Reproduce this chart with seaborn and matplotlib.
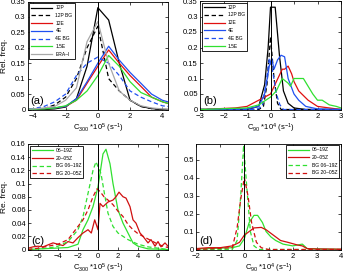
import numpy as np
import pandas as pd
import matplotlib
matplotlib.use("Agg")
import matplotlib.pyplot as plt
import seaborn as sns

# ---- panel (a): C300 distributions ----
A_X = [-4.67, -4, -3.33, -2.67, -2, -1.33, -0.67, 0, 0.67, 1.33, 2, 2.67, 3.33, 4, 4.67]
A_12P = [0, 0, 0, 0.002, 0.008, 0.035, 0.14, 0.33, 0.29, 0.15, 0.03, 0.01, 0.003, 0, 0]
A_12P_BG = [0, 0, 0.003, 0.015, 0.04, 0.10, 0.20, 0.27, 0.10, 0.06, 0.03, 0.01, 0.003, 0, 0]
A_12E = [0, 0.002, 0.003, 0.005, 0.01, 0.03, 0.085, 0.14, 0.193, 0.15, 0.11, 0.075, 0.04, 0.025, 0.015]
A_4E = [0, 0.002, 0.003, 0.005, 0.01, 0.035, 0.09, 0.15, 0.205, 0.16, 0.12, 0.085, 0.05, 0.03, 0.02]
A_4E_BG = [0, 0.003, 0.01, 0.025, 0.05, 0.11, 0.15, 0.17, 0.15, 0.11, 0.06, 0.04, 0.025, 0.012, 0.008]
A_15E = [0, 0.001, 0.002, 0.005, 0.012, 0.03, 0.06, 0.11, 0.175, 0.14, 0.09, 0.055, 0.04, 0.025, 0.015]
A_ERA = [0, 0.002, 0.005, 0.01, 0.03, 0.07, 0.22, 0.285, 0.15, 0.06, 0.03, 0.012, 0.005, 0.002, 0]

# ---- panel (b): C90 distributions ----
B_12P_X = [-3, -1, -0.5, -0.25, -0.1, 0.0, 0.2, 0.38, 0.55, 0.75, 1.0, 1.5, 3]
B_12P = [0, 0, 0.01, 0.08, 0.2, 0.33, 0.33, 0.175, 0.06, 0.02, 0.005, 0, 0]
B_12P_BG_X = [-3, -0.5, -0.3, -0.15, 0, 0.15, 0.3, 0.45, 3]
B_12P_BG = [0, 0, 0.01, 0.08, 0.235, 0.1, 0.02, 0, 0]
B_12E_X = [-3, -1.5, -1, -0.5, 0, 0.25, 0.5, 0.6, 0.75, 0.9, 1.0, 1.2, 1.4, 1.6, 1.8, 2.0, 2.5, 3]
B_12E = [0, 0.005, 0.01, 0.03, 0.05, 0.09, 0.13, 0.13, 0.14, 0.115, 0.09, 0.06, 0.045, 0.03, 0.02, 0.01, 0.005, 0]
B_4E_X = [-3, -1, -0.5, -0.25, -0.05, 0.05, 0.15, 0.3, 0.45, 0.6, 0.75, 0.85, 1.0, 1.2, 1.5, 2, 3]
B_4E = [0, 0.002, 0.01, 0.05, 0.14, 0.165, 0.13, 0.16, 0.175, 0.17, 0.1, 0.08, 0.05, 0.03, 0.01, 0.002, 0]
B_4E_BG_X = [-3, -0.6, -0.35, -0.2, -0.05, 0.1, 0.25, 0.4, 0.55, 3]
B_4E_BG = [0, 0, 0.01, 0.08, 0.165, 0.12, 0.05, 0.015, 0, 0]
B_15E_X = [-3, -1, -0.5, 0, 0.25, 0.5, 0.75, 0.85, 1.0, 1.4, 1.6, 1.8, 2.0, 2.2, 2.5, 2.8, 3]
B_15E = [0, 0.005, 0.015, 0.04, 0.06, 0.1, 0.085, 0.075, 0.1, 0.1, 0.075, 0.05, 0.03, 0.03, 0.015, 0.01, 0.005]

# ---- panel (c): C300 by time of day ----
C_DAY_X = [-7, -3, -2, -1.5, -1, -0.5, 0, 0.5, 0.8, 1.2, 1.5, 2, 2.5, 3, 3.5, 4, 5, 7]
C_DAY = [0, 0.003, 0.008, 0.03, 0.045, 0.065, 0.095, 0.145, 0.152, 0.13, 0.1, 0.06, 0.04, 0.025, 0.01, 0.005, 0.001, 0]
C_NIGHT_X = [-7, -6.5, -6, -5.5, -5, -4.5, -4, -3.5, -3, -2.5, -2, -1.5, -1, -0.67, -0.33, 0, 0.2,
             0.5, 1.0, 1.5, 1.8, 2.1, 2.5, 2.8, 3.2, 3.5, 3.8, 4.2, 4.5, 5, 5.3, 5.7, 6, 6.3, 6.7, 7]
C_NIGHT = [0.002, 0.004, 0.005, 0.004, 0.007, 0.01, 0.008, 0.006, 0.012, 0.01, 0.018, 0.025, 0.03, 0.025, 0.045,
           0.03, 0.07, 0.065, 0.072, 0.075, 0.08, 0.087, 0.08, 0.078, 0.065, 0.045, 0.04, 0.025, 0.02, 0.01,
           0.015, 0.005, 0.012, 0.004, 0.01, 0.005]
C_BG_DAY_X = [-7, -5, -4, -3, -2, -1.5, -1, -0.5, -0.2, 0.3, 0.7, 1, 1.5, 2, 3, 4, 5, 7]
C_BG_DAY = [0, 0.002, 0.005, 0.012, 0.03, 0.05, 0.085, 0.12, 0.133, 0.115, 0.08, 0.055, 0.035, 0.025, 0.015, 0.008, 0.004, 0]
C_BG_NIGHT_X = [-7, -6, -5, -4, -3, -2.5, -2, -1.5, -1, -0.5, -0.1, 0.2, 0.6, 1, 1.5, 2, 2.5, 3, 3.5, 4, 4.5, 5, 5.5, 6, 6.5, 7]
C_BG_NIGHT = [0, 0.002, 0.005, 0.008, 0.015, 0.025, 0.035, 0.045, 0.06, 0.08, 0.092, 0.088, 0.08, 0.075, 0.068, 0.058, 0.05, 0.038, 0.03, 0.024, 0.02, 0.016, 0.012, 0.008, 0.005, 0.003]

# ---- panel (d): C90 by time of day ----
D_DAY_X = [-2, -1.5, -0.5, -0.2, 0, 0.2, 0.4, 0.55, 0.75, 0.9, 1.1, 1.3, 1.6, 2, 2.4, 2.6, 3, 4]
D_DAY = [0.003, 0.005, 0.01, 0.02, 0.06, 0.15, 0.19, 0.19, 0.15, 0.1, 0.07, 0.05, 0.03, 0.02, 0.03, 0.005, 0.003, 0]
D_NIGHT_X = [-2, -1.5, -1, -0.5, -0.2, 0, 0.2, 0.4, 0.7, 0.9, 1.2, 1.5, 1.8, 2.2, 2.4, 2.6, 3, 4]
D_NIGHT = [0.005, 0.01, 0.01, 0.02, 0.04, 0.08, 0.1, 0.12, 0.123, 0.11, 0.08, 0.05, 0.04, 0.025, 0.02, 0.005, 0.003, 0.002]
D_BG_DAY_X = [-2, -0.5, -0.3, -0.15, -0.03, 0.1, 0.25, 0.4, 0.6, 4]
D_BG_DAY = [0, 0, 0.05, 0.3, 0.58, 0.35, 0.1, 0.02, 0, 0]
D_BG_NIGHT_X = [-2, -0.5, -0.3, -0.15, 0, 0.15, 0.3, 0.5, 0.7, 1, 4]
D_BG_NIGHT = [0, 0.01, 0.12, 0.28, 0.4, 0.3, 0.15, 0.04, 0.01, 0, 0]

BLACK, RED, BLUE, GREEN, GREY = "black", "#e01010", "#2050f0", "#30e030", "#a8a8a8"
DRED = "#d01010"

plt.rcParams["font.family"] = ["Liberation Sans", "DejaVu Sans"]
plt.rcParams["mathtext.default"] = "regular"
plt.rcParams["axes.linewidth"] = 0.6

fig = plt.figure(figsize=(3.43, 2.75), dpi=100)
W, H = 343.0, 275.0


def box(l, r, t, b):
    return [l / W, 1 - b / H, (r - l) / W, (b - t) / H]


def line(ax, x, y, color, ls="-", label=None):
    dash = (3.5, 2.2) if ls == "--" else None
    sns.lineplot(x=x, y=y, ax=ax, color=color, lw=0.9, sort=False,
                 estimator=None, label=label, legend=False,
                 **({"dashes": dash} if dash else {"linestyle": "-"}))


def style(ax, xlim, ylim, xticks, yticks, xlabel, ylabel, letter):
    ax.axvline(0, color="black", lw=0.7)
    ax.set_xlim(*xlim)
    ax.set_ylim(*ylim)
    ax.set_xticks(xticks)
    ax.set_yticks(yticks)
    ax.set_yticklabels([f"{v:g}" for v in yticks])
    ax.set_xticklabels([f"{v:g}".replace("-", "\u2212") for v in xticks])
    ax.tick_params(direction="in", top=True, right=True, labelsize=5.5, length=2, width=0.5)
    ax.tick_params(axis="x", pad=2.5)
    ax.tick_params(axis="y", pad=1.5)
    ax.set_xlabel(xlabel, fontsize=5.5, labelpad=1.2)
    ax.set_ylabel(ylabel, fontsize=6, labelpad=2)
    ax.text(0.02, 0.03, letter, transform=ax.transAxes, fontsize=8, ha="left", va="bottom")


def legend(ax, loc):
    leg = ax.legend(loc=loc, fontsize=3.6, handlelength=4.2, handleheight=0.6, handletextpad=0.6,
                    labelspacing=0.55, borderpad=0.4, borderaxespad=0.35, fancybox=False, framealpha=1)
    leg.get_frame().set_edgecolor("black")
    leg.get_frame().set_linewidth(0.6)


lab300 = "C$_{300}$ *10$^{5}$ (s$^{-1}$)"
lab90 = "C$_{90}$ *10$^{4}$ (s$^{-1}$)"

ax = fig.add_axes(box(27.7, 168, 1.5, 109.5))
line(ax, A_X, A_12P, BLACK, "-", "12P")
line(ax, A_X, A_12P_BG, BLACK, "--", "12P BG")
line(ax, A_X, A_12E, RED, "-", "12E")
line(ax, A_X, A_4E, BLUE, "-", "4E")
line(ax, A_X, A_4E_BG, BLUE, "--", "4E BG")
line(ax, A_X, A_15E, GREEN, "-", "1.5E")
line(ax, A_X, A_ERA, GREY, "-", "ERA\u2013I")
style(ax, (-4.35, 4.35), (0, 0.35), [-4, -2, 0, 2, 4],
      [0, 0.05, 0.1, 0.15, 0.2, 0.25, 0.3, 0.35], lab300, "Rel. freq.", "(a)")
legend(ax, "upper left")

ax = fig.add_axes(box(200, 341, 1, 109.5))
line(ax, B_12P_X, B_12P, BLACK, "-", "12P")
line(ax, B_12P_BG_X, B_12P_BG, BLACK, "--", "12P BG")
line(ax, B_12E_X, B_12E, RED, "-", "12E")
line(ax, B_4E_X, B_4E, BLUE, "-", "4E")
line(ax, B_4E_BG_X, B_4E_BG, BLUE, "--", "4E BG")
line(ax, B_15E_X, B_15E, GREEN, "-", "1.5E")
style(ax, (-3, 3), (0, 0.35), [-3, -2, -1, 0, 1, 2, 3],
      [0, 0.05, 0.1, 0.15, 0.2, 0.25, 0.3, 0.35], lab90, "", "(b)")
legend(ax, "upper left")

ax = fig.add_axes(box(28, 168, 144, 249.5))
line(ax, C_DAY_X, C_DAY, GREEN, "-", "06\u201319Z")
line(ax, C_NIGHT_X, C_NIGHT, DRED, "-", "20\u201305Z")
line(ax, C_BG_DAY_X, C_BG_DAY, GREEN, "--", "BG 06\u201319Z")
line(ax, C_BG_NIGHT_X, C_BG_NIGHT, DRED, "--", "BG 20\u201305Z")
style(ax, (-7, 7), (0, 0.16), [-6, -4, -2, 0, 2, 4, 6],
      [0, 0.02, 0.04, 0.06, 0.08, 0.1, 0.12, 0.14, 0.16], lab300, "Re. freq.", "(c)")
legend(ax, "upper left")

ax = fig.add_axes(box(196, 341, 143.5, 249.5))
line(ax, D_DAY_X, D_DAY, GREEN, "-", "06\u201319Z")
line(ax, D_NIGHT_X, D_NIGHT, DRED, "-", "20\u201305Z")
line(ax, D_BG_DAY_X, D_BG_DAY, GREEN, "--", "BG 06\u201319Z")
line(ax, D_BG_NIGHT_X, D_BG_NIGHT, DRED, "--", "BG 20\u201305Z")
style(ax, (-2, 4), (0, 0.59), [-2, -1, 0, 1, 2, 3, 4],
      [0, 0.1, 0.2, 0.3, 0.4, 0.5], lab90, "", "(d)")
legend(ax, "upper right")

fig.savefig("out.png", dpi=100)
